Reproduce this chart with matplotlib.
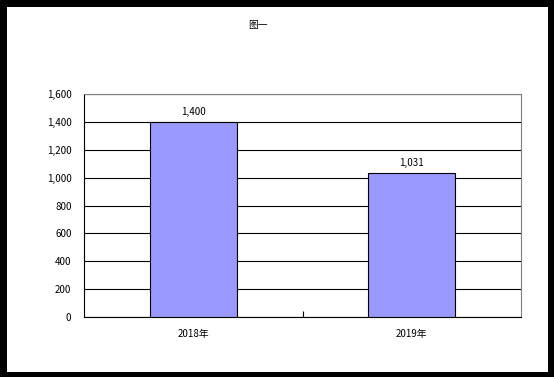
import matplotlib
matplotlib.use("Agg")
import matplotlib.pyplot as plt
from matplotlib.patches import Rectangle
from matplotlib.ticker import FuncFormatter

plt.rcParams['font.family'] = ['Noto Sans CJK SC', 'DejaVu Sans']

# data
years = ['2018年', '2019年']
values = [1400, 1031]
title = '图一'
y_ticks = [0, 200, 400, 600, 800, 1000, 1200, 1400, 1600]

fig = plt.figure(figsize=(5.54, 3.77), dpi=100)
fig.patch.set_facecolor('black')
# white inner panel, black frame round it
fig.patches.append(Rectangle((7 / 554, 5 / 377), 541 / 554, 365 / 377,
                             transform=fig.transFigure, facecolor='white',
                             edgecolor='none', zorder=-10))

ax = fig.add_axes([84 / 554, 60 / 377, 437 / 554, 223 / 377])
ax.set_zorder(5)
ax.set_facecolor('white')

x = list(range(len(years)))
ax.bar(x, values, width=0.4, color='#9999FF', edgecolor='black',
       linewidth=0.8, zorder=3)
for xi, v in zip(x, values):
    ax.text(xi, v + 35, f'{v:,}', ha='center', va='bottom', fontsize=7)

ax.set_xlim(-0.5, len(years) - 0.5)
ax.set_ylim(0, 1600)
ax.set_yticks(y_ticks)
ax.yaxis.set_major_formatter(FuncFormatter(lambda v, p: f'{int(v):,}'))
ax.grid(axis='y', color='black', linewidth=0.8, zorder=1)
ax.set_xticks(x)
ax.set_xticklabels(years)
ax.set_xticks([0.5], minor=True)
ax.tick_params(axis='x', which='major', length=0, pad=9, labelsize=7)
ax.tick_params(axis='x', which='minor', length=4, direction='in', width=0.8)
ax.tick_params(axis='y', length=0, pad=9, labelsize=7)

for side in ['top', 'right']:
    ax.spines[side].set_color('#808080')
    ax.spines[side].set_linewidth(0.8)
for side in ['left', 'bottom']:
    ax.spines[side].set_color('black')
    ax.spines[side].set_linewidth(0.8)

fig.text(258 / 554, 1 - 25 / 377, title, ha='center', va='center', fontsize=7)

fig.savefig('out.png', dpi=100, facecolor=fig.get_facecolor())
